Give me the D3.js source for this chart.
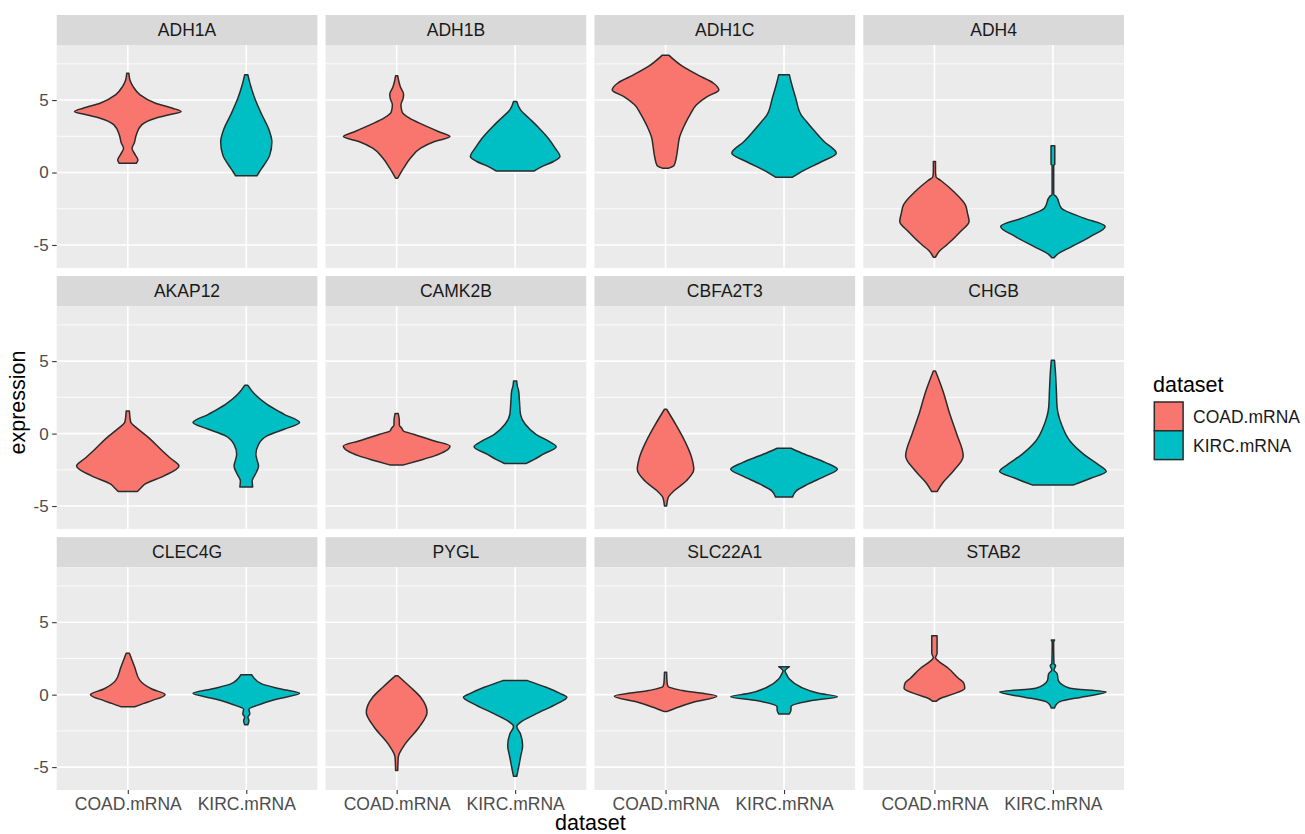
<!DOCTYPE html>
<html>
<head>
<meta charset="utf-8">
<script src="https://cdn.jsdelivr.net/npm/d3@7"></script>
<style>
  body { margin: 0; background: #ffffff; }
  svg { display: block; font-family: "Liberation Sans", Arial, Helvetica, sans-serif; }
</style>
</head>
<body>
<svg id="chart" width="1305" height="834"></svg>
<script>
// Facet labels (one panel per gene) and the two datasets compared in each panel
const genes = ["ADH1A", "ADH1B", "ADH1C", "ADH4",
               "AKAP12", "CAMK2B", "CBFA2T3", "CHGB",
               "CLEC4G", "PYGL", "SLC22A1", "STAB2"];
const datasets = ["COAD.mRNA", "KIRC.mRNA"];
const datasetColors = ["#F8766D", "#00BFC4"];
const yTicks = [-5, 0, 5];
const yMinorTicks = [-2.5, 2.5, 7.5];

// Violin outlines per gene: [expression, relative density width], lowest value first
const coadProfiles = [
  // ADH1A
  [[0.64,0.16],[0.87,0.19],[1.22,0.14],[1.68,0.08],[2.02,0.12],[2.6,0.16],[3.29,0.26],[3.75,0.52],[3.98,0.78],[4.21,1.0],[4.44,0.84],[4.78,0.52],[5.36,0.23],[5.93,0.1],[6.39,0.04],[6.85,0.02]],
  // ADH1B
  [[-0.39,0.02],[0.3,0.13],[1.0,0.26],[1.68,0.45],[2.14,0.71],[2.48,1.0],[2.83,0.78],[3.29,0.5],[3.75,0.24],[4.2,0.1],[4.67,0.08],[5.1,0.12],[5.4,0.13],[5.9,0.07],[6.3,0.04],[6.67,0.02]],
  // ADH1C
  [[0.3,0.06],[0.5,0.16],[1.0,0.2],[1.7,0.23],[2.4,0.26],[3.3,0.36],[4.0,0.46],[4.67,0.58],[5.24,0.78],[5.7,1.0],[6.16,0.9],[6.74,0.6],[7.43,0.28],[8.1,0.06]],
  // ADH4
  [[-5.84,0.02],[-5.4,0.1],[-5.0,0.23],[-4.07,0.49],[-3.38,0.65],[-2.8,0.62],[-2.23,0.58],[-1.31,0.36],[-0.55,0.12],[-0.3,0.03],[0.1,0.02],[0.76,0.02]],
  // AKAP12
  [[-4.0,0.18],[-3.7,0.26],[-3.49,0.32],[-2.92,0.68],[-2.23,0.96],[-1.7,0.8],[-1.2,0.65],[-0.28,0.39],[0.41,0.16],[0.7,0.07],[0.87,0.05],[1.56,0.03]],
  // CAMK2B
  [[-2.16,0.13],[-1.89,0.39],[-1.54,0.71],[-1.2,0.92],[-0.85,1.0],[-0.51,0.71],[-0.05,0.32],[0.2,0.12],[0.35,0.1],[0.6,0.05],[0.87,0.05],[1.38,0.03]],
  // CBFA2T3
  [[-4.99,0.02],[-4.41,0.05],[-3.95,0.16],[-3.26,0.39],[-2.46,0.53],[-1.66,0.49],[-0.51,0.36],[0.64,0.19],[1.68,0.02]],
  // CHGB
  [[-4.0,0.05],[-3.38,0.16],[-2.57,0.36],[-1.54,0.54],[-0.05,0.42],[1.33,0.29],[2.94,0.16],[4.32,0.02]],
  // CLEC4G
  [[-0.83,0.13],[-0.6,0.3],[-0.41,0.45],[0.0,0.7],[0.39,0.45],[0.97,0.23],[1.89,0.13],[2.85,0.03]],
  // PYGL
  [[-5.24,0.02],[-4.32,0.03],[-3.4,0.16],[-2.25,0.42],[-1.22,0.57],[-0.18,0.45],[0.51,0.26],[1.31,0.02]],
  // SLC22A1
  [[-1.17,0.02],[-0.85,0.25],[-0.53,0.52],[-0.11,0.96],[0.28,0.32],[0.55,0.05],[0.8,0.03],[1.54,0.02]],
  // STAB2
  [[-0.46,0.03],[-0.2,0.15],[0.0,0.32],[0.44,0.57],[0.8,0.55],[1.13,0.45],[1.82,0.26],[2.3,0.08],[2.55,0.02],[2.85,0.05],[4.07,0.05]]
];

const kircProfiles = [
  // ADH1A
  [[-0.23,0.2],[0.07,0.25],[0.5,0.33],[1.2,0.44],[2.1,0.48],[3.0,0.42],[4.0,0.29],[5.1,0.16],[6.0,0.08],[6.74,0.03]],
  // ADH1B
  [[0.11,0.36],[0.41,0.5],[0.76,0.72],[1.1,0.84],[1.68,0.75],[2.37,0.62],[3.06,0.45],[3.75,0.26],[4.32,0.1],[4.9,0.03]],
  // ADH1C
  [[-0.32,0.16],[0.18,0.39],[0.76,0.71],[1.33,0.98],[2.14,0.75],[2.83,0.58],[3.52,0.42],[3.98,0.32],[5.13,0.22],[6.28,0.13],[6.74,0.1]],
  // ADH4
  [[-5.88,0.02],[-5.68,0.07],[-5.1,0.36],[-4.41,0.71],[-3.72,0.98],[-3.15,0.58],[-2.46,0.16],[-1.66,0.06],[-1.5,0.015],[0.5,0.015],[0.55,0.035],[1.84,0.035]],
  // AKAP12
  [[-3.68,0.12],[-3.26,0.11],[-2.8,0.17],[-2.23,0.23],[-1.8,0.2],[-1.43,0.18],[-0.74,0.23],[-0.16,0.39],[0.3,0.71],[0.76,1.0],[1.33,0.71],[2.02,0.39],[2.71,0.16],[3.33,0.03]],
  // CAMK2B
  [[-2.07,0.2],[-1.8,0.35],[-1.43,0.52],[-0.9,0.77],[-0.51,0.62],[-0.05,0.39],[0.64,0.19],[1.33,0.1],[2.25,0.08],[2.94,0.065],[3.3,0.04],[3.63,0.03]],
  // CBFA2T3
  [[-4.37,0.16],[-3.95,0.23],[-3.49,0.45],[-2.92,0.78],[-2.46,1.0],[-2.0,0.78],[-1.43,0.39],[-1.01,0.13]],
  // CHGB
  [[-3.54,0.39],[-3.08,0.71],[-2.62,1.0],[-2.11,0.84],[-1.43,0.58],[-0.51,0.32],[0.64,0.16],[1.79,0.08],[2.94,0.065],[4.09,0.05],[5.06,0.03]],
  // CLEC4G
  [[-2.07,0.03],[-1.79,0.05],[-1.56,0.03],[-1.33,0.065],[-0.99,0.05],[-0.76,0.19],[-0.3,0.58],[0.09,1.0],[0.39,0.65],[0.74,0.29],[1.38,0.1]],
  // PYGL
  [[-5.63,0.03],[-5.01,0.065],[-4.32,0.1],[-3.52,0.14],[-2.71,0.1],[-2.2,0.03],[-1.91,0.1],[-1.33,0.39],[-0.64,0.78],[-0.18,0.97],[0.09,0.84],[0.51,0.58],[0.97,0.23]],
  // SLC22A1
  [[-1.33,0.1],[-1.06,0.13],[-0.83,0.13],[-0.41,0.52],[-0.14,1.0],[0.09,0.65],[0.51,0.32],[1.08,0.1],[1.45,0.04],[1.64,0.02],[1.93,0.1]],
  // STAB2
  [[-0.92,0.03],[-0.7,0.06],[-0.48,0.13],[-0.14,0.58],[0.18,1.0],[0.44,0.32],[1.0,0.1],[1.45,0.08],[1.7,0.02],[2.0,0.05],[2.14,0.02],[3.6,0.013],[3.77,0.03]]
];

// ---- layout ----
const svg = d3.select("#chart");
const plotLeft = 56.7, plotRight = 1124, plotTop = 15, plotBottom = 790;
const nCol = 4, nRow = 3, gap = 8.2, stripH = 30;
const panelW = (plotRight - plotLeft - gap * (nCol - 1)) / nCol;
const cellH = (plotBottom - plotTop - gap * (nRow - 1)) / nRow;
const panelH = cellH - stripH;

const txtDark = "#1A1A1A", txtAxis = "#4D4D4D";

// shared y scale, data range expanded by 5% each side
const allVals = coadProfiles.concat(kircProfiles).flat().map(d => d[0]);
const [vMin, vMax] = d3.extent(allVals);
const pad = (vMax - vMin) * 0.05;
const y = d3.scaleLinear().domain([vMin - pad, vMax + pad]).range([panelH, 0]);

// discrete x positions with 0.6 step of padding on both sides
const x = d3.scalePoint().domain(datasets).range([0, panelW]).padding(0.6);
const halfWidth = d3.scaleLinear().domain([0, 1]).range([0, 0.45 * x.step()]);

genes.forEach((gene, i) => {
  const col = i % nCol, row = Math.floor(i / nCol);
  const px = plotLeft + col * (panelW + gap);
  const py = plotTop + row * (cellH + gap) + stripH;
  const g = svg.append("g").attr("transform", `translate(${px},${py})`);

  // facet strip
  g.append("rect").attr("x", 0).attr("y", -stripH)
    .attr("width", panelW).attr("height", stripH).attr("fill", "#D9D9D9");
  g.append("text").attr("x", panelW / 2).attr("y", -stripH / 2)
    .attr("dy", "0.36em").attr("text-anchor", "middle")
    .attr("font-size", 17.5).attr("fill", txtDark).text(gene);

  // panel background and grid
  g.append("rect").attr("width", panelW).attr("height", panelH).attr("fill", "#EBEBEB");
  g.selectAll("line.minor").data(yMinorTicks.filter(t => t > y.domain()[0] && t < y.domain()[1]))
    .join("line").attr("class", "minor")
    .attr("x1", 0).attr("x2", panelW).attr("y1", d => y(d)).attr("y2", d => y(d))
    .attr("stroke", "#ffffff").attr("stroke-width", 0.8);
  g.selectAll("line.major").data(yTicks)
    .join("line").attr("class", "major")
    .attr("x1", 0).attr("x2", panelW).attr("y1", d => y(d)).attr("y2", d => y(d))
    .attr("stroke", "#ffffff").attr("stroke-width", 1.6);
  g.selectAll("line.vmajor").data(datasets)
    .join("line").attr("class", "vmajor")
    .attr("x1", d => x(d)).attr("x2", d => x(d)).attr("y1", 0).attr("y2", panelH)
    .attr("stroke", "#ffffff").attr("stroke-width", 1.6);

  // violins
  const violins = datasets.map((ds, k) => ({
    dataset: ds, color: datasetColors[k],
    profile: (k === 0 ? coadProfiles : kircProfiles)[i]
  }));
  g.selectAll("path.violin").data(violins).join("path")
    .attr("class", "violin")
    .attr("d", v => {
      const cx = x(v.dataset);
      return d3.area()
        .curve(d3.curveMonotoneY)
        .y(d => y(d[0]))
        .x0(d => cx - halfWidth(d[1]))
        .x1(d => cx + halfWidth(d[1]))(v.profile);
    })
    .attr("fill", v => v.color)
    .attr("stroke", "#2B2B2B").attr("stroke-width", 1.5)
    .attr("stroke-linejoin", "round");

  // y axis on the first column
  if (col === 0) {
    const ay = g.append("g").call(
      d3.axisLeft(y).tickValues(yTicks).tickSize(4.5).tickPadding(3.5).tickFormat(d => String(d)));
    ay.select(".domain").remove();
    ay.selectAll("line").attr("stroke", "#333333").attr("stroke-width", 1.1);
    ay.selectAll("text").attr("font-size", 17).attr("fill", txtAxis)
      .attr("font-family", "Liberation Sans, Arial, sans-serif");
  }
  // x axis on the bottom row
  if (row === nRow - 1) {
    const ax = g.append("g").attr("transform", `translate(0,${panelH})`).call(
      d3.axisBottom(x).tickSize(4).tickPadding(3.7));
    ax.select(".domain").remove();
    ax.selectAll("line").attr("stroke", "#333333").attr("stroke-width", 1.1);
    ax.selectAll("text").attr("font-size", 17.5).attr("fill", txtAxis)
      .attr("font-family", "Liberation Sans, Arial, sans-serif");
  }
});

// axis titles
svg.append("text")
  .attr("transform", `translate(25,${(plotTop + plotBottom) / 2}) rotate(-90)`)
  .attr("text-anchor", "middle").attr("font-size", 21.5).attr("fill", "#000")
  .text("expression");
svg.append("text")
  .attr("x", (plotLeft + plotRight) / 2).attr("y", 830)
  .attr("text-anchor", "middle").attr("font-size", 21.5).attr("fill", "#000")
  .text("dataset");

// legend
const legend = svg.append("g").attr("transform", "translate(1153,0)");
legend.append("text").attr("x", 0).attr("y", 391.5)
  .attr("font-size", 21.5).attr("fill", "#000").text("dataset");
const keySize = 28.8;
legend.selectAll("rect.key").data(datasets).join("rect")
  .attr("class", "key")
  .attr("x", 1.3).attr("y", (d, k) => 402 + k * keySize)
  .attr("width", keySize).attr("height", keySize)
  .attr("fill", (d, k) => datasetColors[k])
  .attr("stroke", "#2B2B2B").attr("stroke-width", 1.5);
legend.selectAll("text.label").data(datasets).join("text")
  .attr("class", "label")
  .attr("x", 40).attr("y", (d, k) => 402 + k * keySize + keySize / 2)
  .attr("dy", "0.36em").attr("font-size", 17.5).attr("fill", txtDark)
  .text(d => d);
</script>
</body>
</html>
